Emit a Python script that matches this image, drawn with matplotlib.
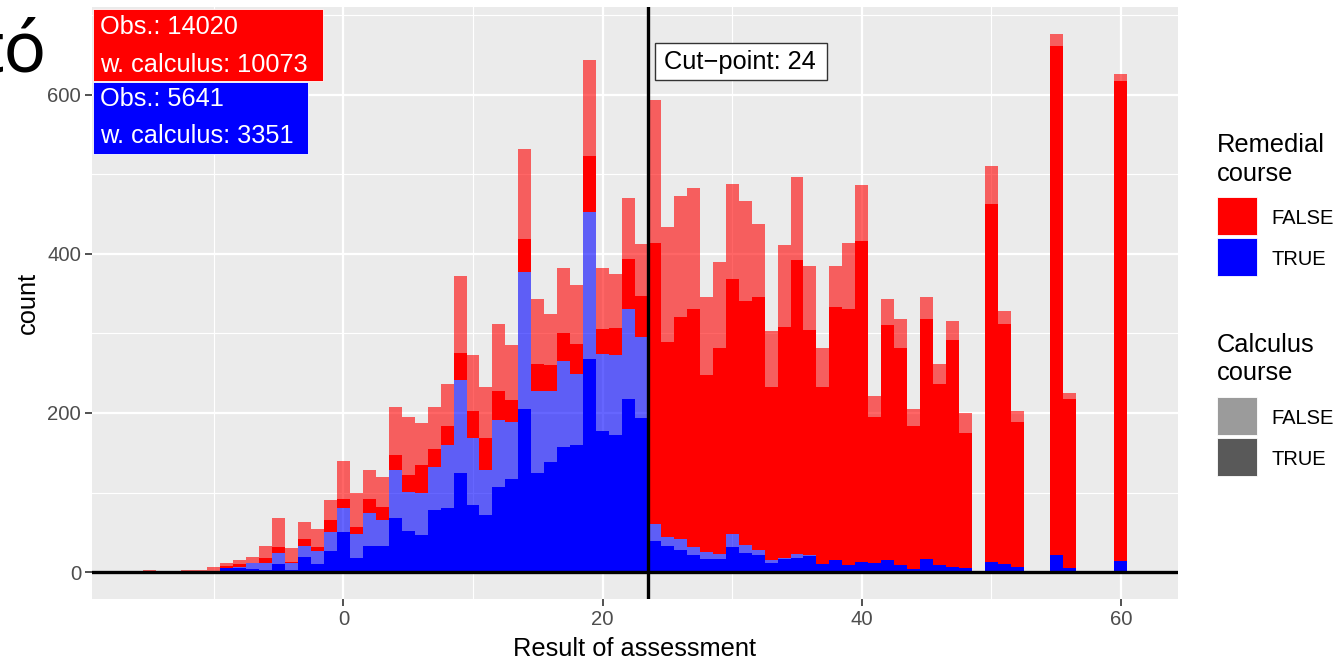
import numpy as np
import matplotlib
matplotlib.use("Agg")
import matplotlib.pyplot as plt
from matplotlib.patches import Rectangle

plt.rcParams['font.family'] = ['Liberation Sans', 'DejaVu Sans']

# Assessment score of each histogram bin (bin width 1)
score = list(range(-15, 61))

# Counts per bin, split by remedial course (TRUE/FALSE) and calculus course (TRUE/FALSE)
remedial_calc = [0, 0, 0, 0, 0, 0,
                 5, 5, 4, 3, 10, 3, 19, 10, 26,
                 51, 18, 33, 33, 68, 52, 46, 78, 81, 125, 84, 72, 107, 117, 205, 124,
                 138, 157, 160, 268, 177, 172, 218, 193,
                 39, 33, 28, 22, 17, 17, 32, 24, 22, 12, 16, 18, 20,
                 10, 15, 9, 13, 12, 15, 9, 4, 16, 9, 6, 5,
                 0, 13, 10, 7, 0, 0, 22, 5, 0, 0, 0, 14]
remedial_nocalc = [0, 0, 0, 0, 0, 0,
                   0, 2, 7, 9, 14, 8, 14, 16, 25,
                   30, 30, 41, 32, 60, 49, 54, 54, 79, 116, 85, 56, 84, 71, 172, 104,
                   89, 108, 89, 185, 97, 101, 112, 103,
                   21, 11, 14, 10, 8, 6, 16, 10, 6, 3, 2, 5, 2,
                   0, 0, 0, 0, 0, 0, 0, 0, 0, 0, 0, 0,
                   0, 0, 0, 0, 0, 0, 0, 0, 0, 0, 0, 0]
regular_calc = [0, 0, 0, 0, 0, 0,
                3, 3, 0, 6, 7, 2, 8, 6, 14,
                11, 9, 18, 17, 19, 21, 35, 23, 24, 34, 34, 41, 37, 28, 42, 34,
                33, 35, 37, 70, 32, 34, 63, 51,
                354, 245, 279, 298, 223, 258, 320, 306, 318, 217, 290, 369, 282,
                222, 318, 321, 403, 183, 296, 272, 179, 302, 227, 285, 170,
                0, 450, 302, 182, 0, 0, 639, 212, 0, 0, 0, 603]
regular_nocalc = [3, 0, 0, 3, 3, 6,
                  3, 5, 8, 15, 37, 17, 22, 22, 25,
                  47, 43, 36, 38, 60, 73, 52, 52, 52, 97, 70, 64, 84, 69, 112, 81,
                  64, 82, 75, 120, 76, 68, 77, 65,
                  179, 144, 152, 153, 98, 108, 120, 126, 91, 71, 103, 105, 80,
                  49, 51, 84, 70, 26, 32, 37, 22, 28, 26, 25, 25,
                  0, 47, 16, 13, 0, 0, 15, 8, 0, 0, 0, 9]

cut_point = 24
obs_regular, calc_regular = 14020, 10073
obs_remedial, calc_remedial = 5641, 3351

x_ticks = [0, 20, 40, 60]
y_ticks = [0, 200, 400, 600]

W, H = 1338, 660


def fx(px):
    return px / W


def fy(py):
    return 1 - py / H


fig = plt.figure(figsize=(W / 100, H / 100), dpi=100)
ax = fig.add_axes([fx(92), fy(599), 1086 / W, 592 / H])
ax.set_facecolor('#EBEBEB')

# stacked histogram: remedial groups at the bottom, calculus-takers drawn opaque
layers = [(remedial_calc, '#0000FF', 1.0),
          (remedial_nocalc, '#0000FF', 0.6),
          (regular_calc, '#FF0000', 1.0),
          (regular_nocalc, '#FF0000', 0.6)]
bottom = np.zeros(len(score))
for counts, colour, alpha in layers:
    counts = np.asarray(counts, dtype=float)
    ax.bar(score, counts, width=1.0, bottom=bottom, color=colour, alpha=alpha,
           linewidth=0, zorder=2)
    bottom += counts

# grid in ggplot style (minor lines halfway between the major breaks)
ax.set_xticks(x_ticks)
ax.set_yticks(y_ticks)
xt = np.array(x_ticks)
yt = np.array(y_ticks)
ax.set_xticks(np.r_[xt[0] - 10, (xt[:-1] + xt[1:]) / 2], minor=True)
ax.set_yticks(np.r_[(yt[:-1] + yt[1:]) / 2, yt[-1] + 100], minor=True)
ax.set_xlim(-19.4, 64.4)
ax.set_ylim(-33.8, 710)
ax.grid(which='major', color='white', linewidth=1.6)
ax.grid(which='minor', color='white', linewidth=0.8)
ax.set_axisbelow(True)
ax.tick_params(which='minor', length=0)
ax.tick_params(which='major', length=4.8, width=1.2, color='#333333',
               labelcolor='#4D4D4D', labelsize=14.6, pad=3)
for s in ax.spines.values():
    s.set_visible(False)

ax.axhline(0, color='black', linewidth=2.4, zorder=3)
ax.axvline(cut_point - 0.5, color='black', linewidth=2.4, zorder=3)

ax.set_xlabel('Result of assessment', fontsize=18.3, color='black')
ax.xaxis.label.set_va('baseline')
ax.xaxis.set_label_coords(0.5, -(656 - 599) / 592)
ax.set_ylabel('count', fontsize=18.3, color='black')
ax.yaxis.label.set_va('center')
ax.yaxis.label.set_ha('center')
ax.yaxis.set_label_coords(-(92 - 28) / 1086, 0.5)

# cut-point label
fig.add_artist(Rectangle((fx(655), fy(80)), 172 / W, 37 / H, transform=fig.transFigure,
                         facecolor='white', edgecolor='#333333', linewidth=1.0, zorder=5))
fig.text(fx(664), fy(69.5), f'Cut\u2212point: {cut_point}', fontsize=18.3,
         ha='left', va='baseline', color='black', zorder=6)

# group totals
boxes = [((93, 9, 230, 72), '#FF0000', (obs_regular, calc_regular), (34.5, 72)),
         ((93, 82, 215, 72), '#0000FF', (obs_remedial, calc_remedial), (106, 143))]
for (bx, by, bw, bh), colour, (obs, calc), (b1, b2) in boxes:
    fig.add_artist(Rectangle((fx(bx), fy(by + bh)), bw / W, bh / H,
                             transform=fig.transFigure, facecolor=colour,
                             edgecolor='white', linewidth=0.6, zorder=5))
    fig.text(fx(100), fy(b1), f'Obs.: {obs}', fontsize=18.3, color='white',
             ha='left', va='baseline', zorder=6)
    fig.text(fx(100), fy(b2), f'w. calculus: {calc}', fontsize=18.3, color='white',
             ha='left', va='baseline', zorder=6)


# legends
def legend_block(title_lines, title_baselines, keys):
    for line, bl in zip(title_lines, title_baselines):
        fig.text(fx(1217), fy(bl), line, fontsize=18.3, ha='left', va='baseline',
                 color='black')
    for colour, top, label, bl in keys:
        fig.add_artist(Rectangle((fx(1217), fy(top + 38)), 40 / W, 38 / H,
                                 transform=fig.transFigure, facecolor=colour,
                                 edgecolor='white', linewidth=0.6))
        fig.text(fx(1271), fy(bl), label, fontsize=14.5, ha='left', va='baseline',
                 color='black')


legend_block(['Remedial', 'course'], [152, 181],
             [('#FF0000', 197, 'FALSE', 224), ('#0000FF', 238, 'TRUE', 265)])
legend_block(['Calculus', 'course'], [352, 380],
             [('#9B9B9B', 397, 'FALSE', 423.5), ('#595959', 438, 'TRUE', 465)])

# slide title fragment at the top-left corner
fig.text(fx(47), fy(71), 't\u00f3', fontsize=51, ha='right', va='baseline',
         color='black', family=['Noto Sans', 'DejaVu Sans'])

fig.savefig('out.png', dpi=100)
